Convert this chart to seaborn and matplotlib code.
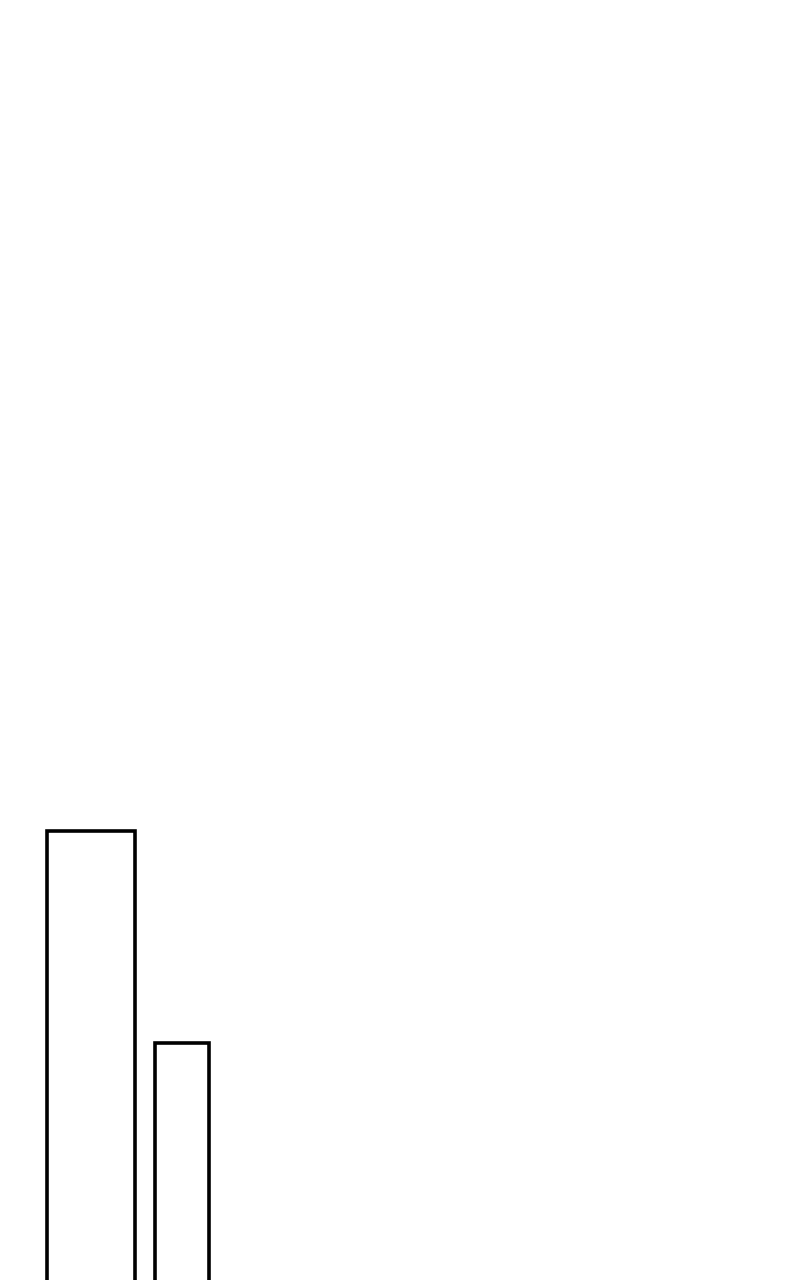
import matplotlib
matplotlib.use("Agg")
import matplotlib.pyplot as plt
import seaborn as sns
import pandas as pd

categories = ["A", "B"]
values = [451, 239]
rel_widths = [0.967, 0.593]

df = pd.DataFrame({"cat": categories, "val": values})

sns.set_style("white")
fig = plt.figure(figsize=(8, 12.8), dpi=100)
ax = fig.add_axes([0, 0, 1, 1])
sns.barplot(data=df, x="cat", y="val", order=categories, color="white",
            edgecolor="black", linewidth=2.6, saturation=1, ax=ax)
for p, w in zip(ax.patches, rel_widths):
    c = p.get_x() + p.get_width() / 2
    p.set_width(w)
    p.set_x(c - w / 2)
    p.set_facecolor("white")
ax.set_xlim(-1, 7.79)
ax.set_ylim(2, 1282)
ax.axis("off")
fig.savefig("out.png", dpi=100, facecolor="white")
